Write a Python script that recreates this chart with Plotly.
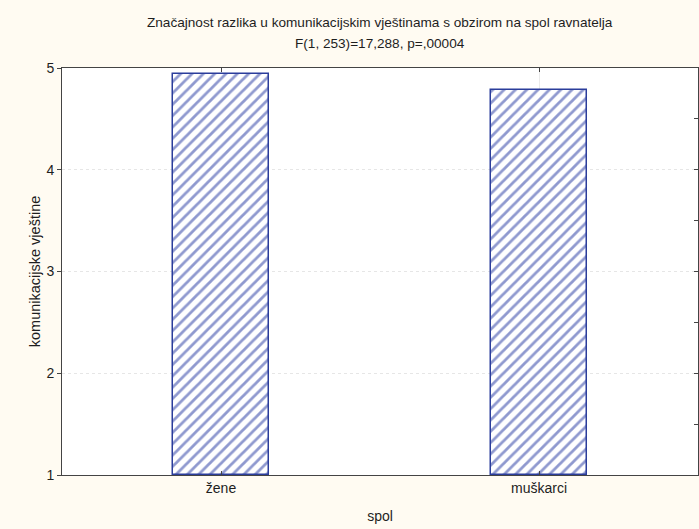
import plotly.graph_objects as go

categories = ["žene", "muškarci"]
values = [4.94, 4.78]
y_ticks = [1, 2, 3, 4, 5]

title_lines = ["Značajnost razlika u komunikacijskim vještinama s obzirom na spol ravnatelja",
               "F(1, 253)=17,288, p=,00004"]

blue = "#2B3D9B"
txt = "#1E1E1E"
font = dict(family="Liberation Sans, Arial, sans-serif", size=14, color=txt)

fig = go.Figure()
fig.add_trace(go.Bar(
    x=categories, y=[v - 1 for v in values], base=1,
    width=0.3,
    marker=dict(color="white",
                line=dict(color=blue, width=1.5),
                pattern=dict(shape="/", fgcolor="#1F33A0", bgcolor="white", size=8, solidity=0.35)),
    showlegend=False,
))
# invisible trace for secondary y axis (right side ticks)
fig.add_trace(go.Scatter(x=categories, y=values, yaxis="y2", mode="markers",
                         marker=dict(opacity=0), showlegend=False, hoverinfo="skip"))

plot_h = 529 - 68 - 54
for i, (line, ypx) in enumerate(zip(title_lines, [22, 44])):
    fig.add_annotation(text=line, xref="paper", yref="paper", x=0.5, xanchor="center",
                       y=1 + (68 - ypx) / plot_h, yanchor="middle", showarrow=False,
                       font=dict(size=13.6, color=txt))

fig.update_layout(
    width=699, height=529,
    paper_bgcolor="#FFFBF2", plot_bgcolor="white",
    margin=dict(l=62, r=1, t=68, b=54),
    font=font,
    bargap=0,
    xaxis=dict(range=[-0.5, 1.5], showline=True, linecolor="#444444", linewidth=1, mirror="ticks",
               ticks="inside", ticklen=4, tickcolor="#444444",
               showgrid=True, gridcolor="#EBEBEB", gridwidth=1,
               title=dict(text="spol", standoff=16, font=dict(size=14, color=txt)),
               tickfont=dict(size=14, color=txt)),
    yaxis=dict(range=[1, 5], tickvals=y_ticks, showline=True, linecolor="#444444", linewidth=1,
               ticks="outside", ticklen=4, tickcolor="#444444",
               showgrid=True, gridcolor="#E6E6E6", griddash="dot", zeroline=False,
               tickfont=dict(size=14, color=txt),
               title=dict(text="komunikacijske vještine", standoff=2, font=dict(size=14.5, color=txt))),
    yaxis2=dict(range=[1, 5], dtick=0.5, overlaying="y", side="right", showline=True,
                linecolor="#444444", linewidth=1, ticks="inside", ticklen=4, tickcolor="#444444",
                showticklabels=False, showgrid=False, zeroline=False),
)

fig.write_html("out.html", config={"displayModeBar": False},
               post_script="document.body.style.margin='0';document.body.style.padding='0';")
